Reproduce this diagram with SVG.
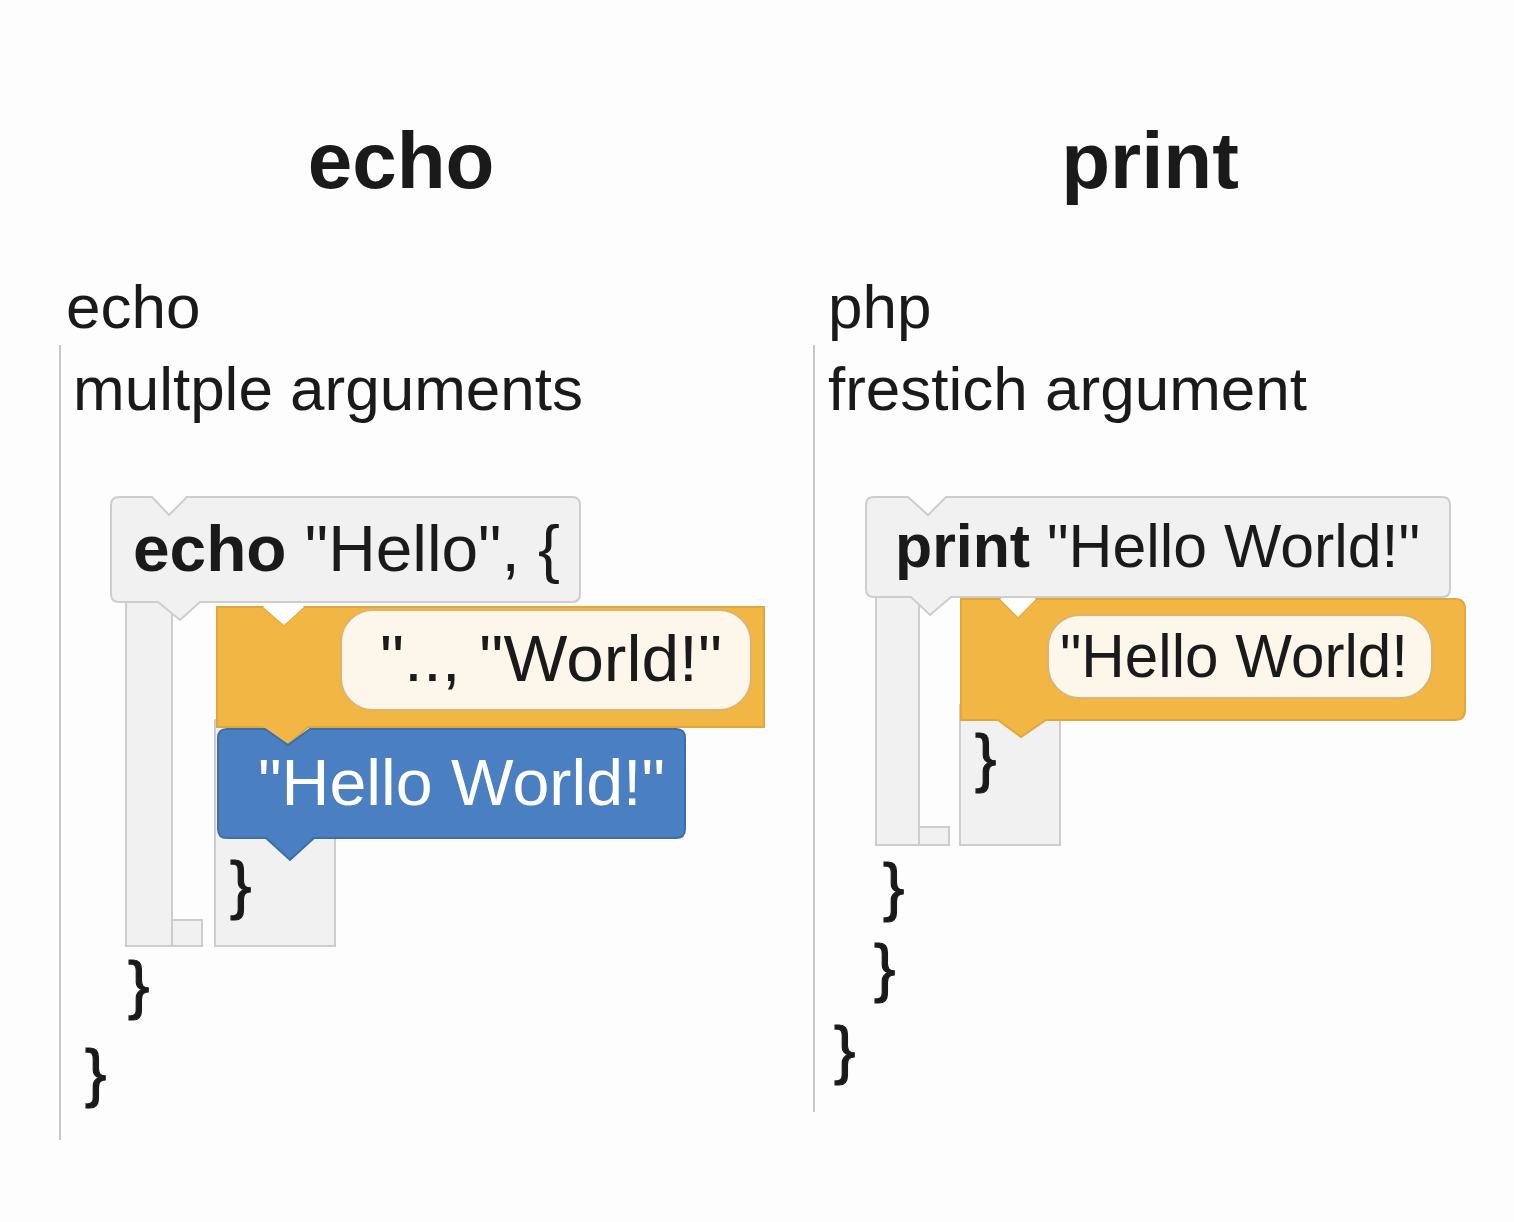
<svg xmlns="http://www.w3.org/2000/svg" width="1514" height="1222" viewBox="0 0 1514 1222">
<style>
.t{font-family:"Liberation Sans",Arial,sans-serif;fill:#1a1a1a}
.ttl{font-size:80px;font-weight:bold}
.lbl{font-size:62px}
.code{font-size:64px}
.b{font-weight:bold}
.br{font-size:64px;stroke:#1a1a1a;stroke-width:1.2}
.gray{fill:#f1f1f1;stroke:#cdcdcd;stroke-width:2}
.org{fill:#f2b644;stroke:#e0a73a;stroke-width:2}
.blue{fill:#4a7fc1;stroke:#3d6eaa;stroke-width:2}
.pill{fill:#fdf6ea;stroke:#dcb46c;stroke-width:2}
.rule{stroke:#c8c8c8;stroke-width:2}
</style>
<rect width="1514" height="1222" fill="#fdfdfd"/>

<g id="titles">
<text class="t ttl" x="401" y="188" text-anchor="middle">echo</text>
<text class="t ttl" x="1150" y="188" text-anchor="middle">print</text>
</g>

<g id="dividers">
<line class="rule" x1="60" y1="345" x2="60" y2="1140"/>
<line class="rule" x1="814" y1="345" x2="814" y2="1112"/>
</g>

<g id="echo-labels">
<text class="t lbl" x="66" y="328">echo</text>
<text class="t lbl" x="73" y="410">multple arguments</text>
</g>

<g id="print-labels">
<text class="t lbl" x="828" y="328">php</text>
<text class="t lbl" x="828" y="410">frestich argument</text>
</g>

<g id="echo-frame">
<rect class="gray" x="126" y="600" width="46" height="346"/>
<rect class="gray" x="172" y="920" width="30" height="26"/>
<rect class="gray" x="215" y="720" width="120" height="226"/>
</g>

<g id="echo-block">
<path class="gray" d="M119,497 H152 L169,515 L187,497 H572 Q580,497 580,505 V594 Q580,602 572,602 H200 L180,620 L158,602 H119 Q111,602 111,594 V505 Q111,497 119,497 Z"/>
<text class="t code" x="133" y="571" textLength="427" lengthAdjust="spacingAndGlyphs"><tspan class="b">echo</tspan> "Hello", {</text>
</g>

<g id="echo-orange">
<path class="org" d="M217,607 H263 L284,625 L304,607 H764 V727 H308 L285,747 L262,727 H217 Z"/>
<path d="M263,607 L284,625 L304,607 Z" fill="#ffffff"/>
<rect class="pill" x="341" y="610" width="410" height="100" rx="32"/>
<text class="t code" x="380" y="681" textLength="342" lengthAdjust="spacingAndGlyphs">"..,  "World!"</text>
</g>

<g id="echo-blue">
<path class="blue" d="M227,729 H265 L288,745 L310,729 H676 Q685,729 685,738 V829 Q685,838 676,838 H314 L290,860 L266,838 H227 Q218,838 218,829 V738 Q218,729 227,729 Z"/>
<text class="t code" x="258" y="805" style="fill:#ffffff" textLength="407" lengthAdjust="spacingAndGlyphs">"Hello World!"</text>
</g>

<g id="echo-braces">
<text class="t br" x="230" y="907">}</text>
<text class="t br" x="128" y="1007">}</text>
<text class="t br" x="85" y="1095">}</text>
</g>

<g id="print-frame">
<rect class="gray" x="876" y="595" width="43" height="250"/>
<rect class="gray" x="919" y="827" width="30" height="18"/>
<rect class="gray" x="960" y="705" width="100" height="140"/>
</g>

<g id="print-block">
<path class="gray" d="M874,497 H908 L928,515 L946,497 H1442 Q1450,497 1450,505 V589 Q1450,597 1442,597 H951 L930,615 L911,597 H874 Q866,597 866,589 V505 Q866,497 874,497 Z"/>
<text class="t code" x="895" y="567" style="font-size:61px" textLength="525" lengthAdjust="spacingAndGlyphs"><tspan class="b">print</tspan> "Hello World!"</text>
</g>

<g id="print-orange">
<path class="org" d="M961,599 H1000 L1018,617 L1036,599 H1455 Q1465,599 1465,609 V710 Q1465,720 1455,720 H1046 L1021,737 L998,720 H961 Z"/>
<path d="M1000,599 L1018,617 L1036,599 Z" fill="#ffffff"/>
<rect class="pill" x="1048" y="615" width="384" height="83" rx="32"/>
<text class="t code" x="1060" y="677" style="font-size:61px" textLength="348" lengthAdjust="spacingAndGlyphs">"Hello World!</text>
</g>

<g id="print-braces">
<text class="t br" x="975" y="780">}</text>
<text class="t br" x="883" y="909">}</text>
<text class="t br" x="874" y="990">}</text>
<text class="t br" x="834" y="1072">}</text>
</g>

<g id="connectors"></g>
</svg>
